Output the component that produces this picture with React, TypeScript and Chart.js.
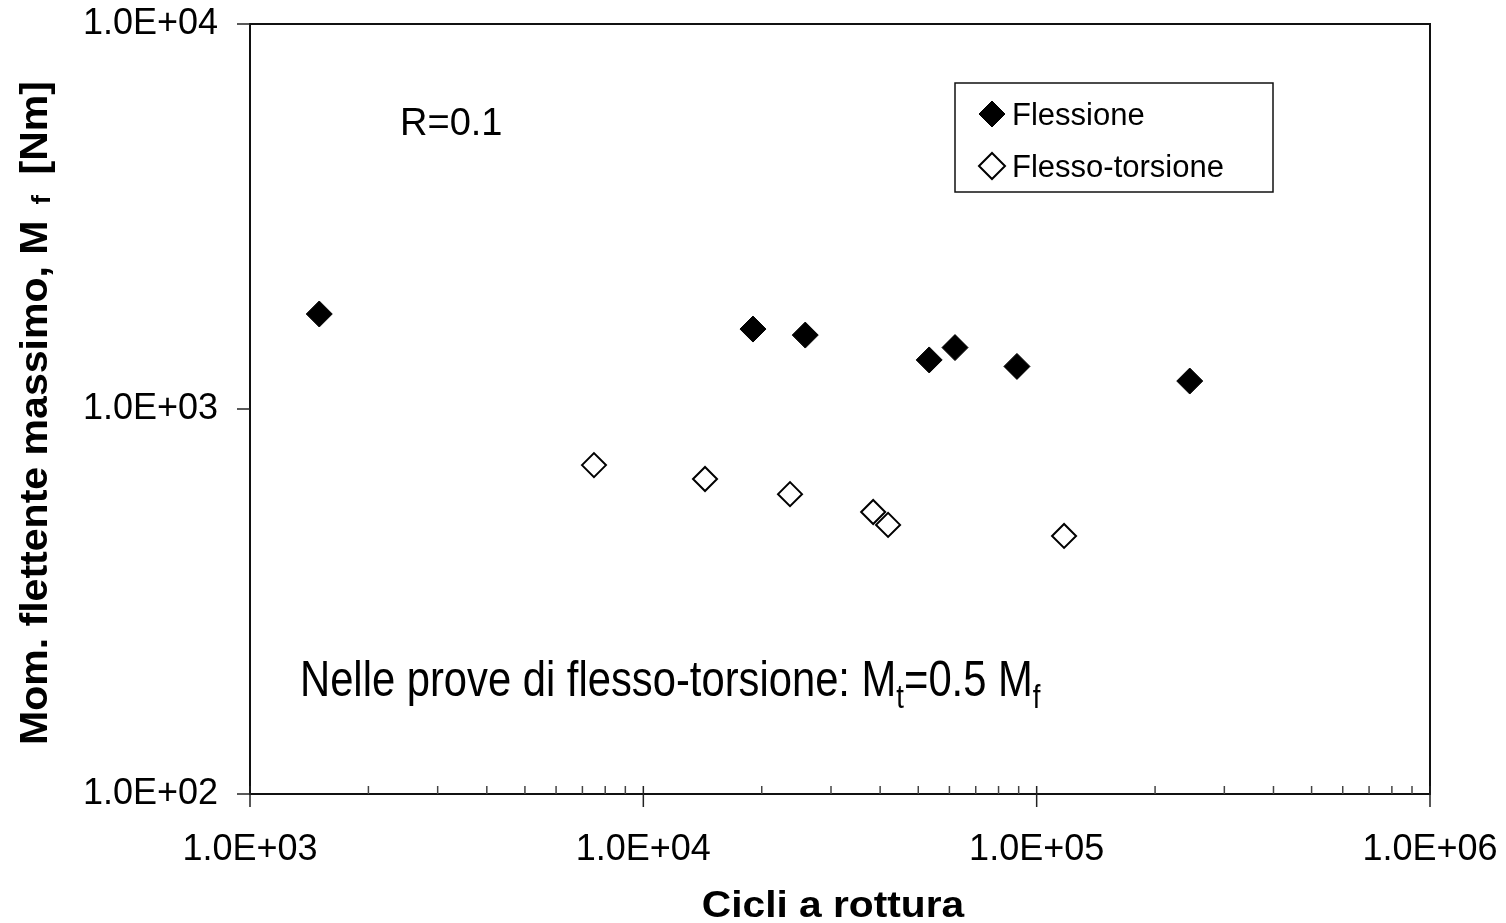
import React, { useEffect, useRef } from 'react';
import { Chart, registerables } from 'chart.js';

Chart.register(...registerables);

const FONT = "'Liberation Sans', Arial, Helvetica, sans-serif";

// ---- data ----
const seriesNames = ['Flessione', 'Flesso-torsione'];
const flessioneCycles = [1500, 19000, 25800, 53300, 62000, 89100, 245000];
const flessioneMoment = [1765, 1613, 1556, 1341, 1444, 1290, 1182];
const flessoTorsioneCycles = [7490, 14350, 23600, 38400, 41900, 117400];
const flessoTorsioneMoment = [715, 658, 601, 540, 500, 468];

// ---- axes ----
const xMajorTicks = [1e3, 1e4, 1e5, 1e6];
const yMajorTicks = [1e2, 1e3, 1e4];
const minorMultipliers = [2, 3, 4, 5, 6, 7, 8, 9];

// ---- texts ----
const xTitle = 'Cicli a rottura';
const yTitleMain = 'Mom. flettente massimo, M';
const yTitleSub = 'f';
const yTitleUnit = '[Nm]';
const ratioNote = 'R=0.1';
const noteMain = 'Nelle prove di flesso-torsione: M';
const noteSubT = 't';
const noteMid = '=0.5 M';
const noteSubF = 'f';

function fmtExp(v: number): string {
  const e = Math.round(Math.log10(v));
  const m = v / Math.pow(10, e);
  const sign = e < 0 ? '-' : '+';
  return `${m.toFixed(1)}E${sign}${String(Math.abs(e)).padStart(2, '0')}`;
}

function diamond(ctx: CanvasRenderingContext2D, x: number, y: number, r: number) {
  ctx.beginPath();
  ctx.moveTo(x - r, y);
  ctx.lineTo(x, y - r);
  ctx.lineTo(x + r, y);
  ctx.lineTo(x, y + r);
  ctx.closePath();
}

function stretchedText(
  ctx: CanvasRenderingContext2D,
  text: string,
  x: number,
  y: number,
  font: string,
  sx: number,
  align: CanvasTextAlign = 'left'
) {
  ctx.save();
  ctx.font = font;
  ctx.translate(x, y);
  ctx.scale(sx, 1);
  ctx.textAlign = align;
  ctx.textBaseline = 'alphabetic';
  ctx.fillText(text, 0, 0);
  ctx.restore();
}

const decorPlugin = {
  id: 'decor',
  afterDraw(chart: any) {
    const { ctx, chartArea: a, scales } = chart;
    const xs = scales.x;
    const ys = scales.y;
    ctx.save();

    // frame
    ctx.strokeStyle = '#111';
    ctx.lineWidth = 2;
    ctx.strokeRect(a.left, a.top, a.right - a.left, a.bottom - a.top);

    const seg = (x1: number, y1: number, x2: number, y2: number) => {
      ctx.beginPath();
      ctx.moveTo(x1, y1);
      ctx.lineTo(x2, y2);
      ctx.stroke();
    };

    // y major ticks (outside)
    ctx.lineWidth = 1.5;
    ctx.strokeStyle = '#222';
    yMajorTicks.forEach((v) => {
      const p = ys.getPixelForValue(v);
      seg(a.left - 13, p, a.left, p);
    });
    // x major ticks (cross)
    xMajorTicks.forEach((v) => {
      const p = xs.getPixelForValue(v);
      seg(p, a.bottom - 8, p, a.bottom + 13);
    });
    // x minor ticks (inside)
    ctx.strokeStyle = '#444';
    for (let i = 0; i < xMajorTicks.length - 1; i++) {
      minorMultipliers.forEach((k) => {
        const p = xs.getPixelForValue(xMajorTicks[i] * k);
        seg(p, a.bottom - 8, p, a.bottom);
      });
    }

    // legend
    const lx = 955, ly = 83, lw = 318, lh = 109;
    ctx.fillStyle = '#fff';
    ctx.fillRect(lx, ly, lw, lh);
    ctx.strokeStyle = '#111';
    ctx.lineWidth = 1.5;
    ctx.strokeRect(lx, ly, lw, lh);
    chart.data.datasets.forEach((ds: any, i: number) => {
      const cy = 114 + i * 52;
      diamond(ctx, 992, cy, 13);
      ctx.fillStyle = ds.backgroundColor;
      ctx.fill();
      ctx.lineWidth = ds.borderWidth;
      ctx.strokeStyle = ds.borderColor;
      ctx.stroke();
      ctx.fillStyle = '#000';
      stretchedText(ctx, ds.label, 1012, cy + 11, `31px ${FONT}`, 1);
    });

    // R=0.1
    ctx.fillStyle = '#000';
    stretchedText(ctx, ratioNote, 400, 135, `38px ${FONT}`, 1);

    // note with subscripts
    {
      const sx = 0.835;
      const big = `50px ${FONT}`;
      const small = `33px ${FONT}`;
      let x = 300;
      const base = 696;
      ctx.font = big;
      stretchedText(ctx, noteMain, x, base, big, sx);
      x += ctx.measureText(noteMain).width * sx;
      stretchedText(ctx, noteSubT, x, base + 12, small, sx);
      ctx.font = small;
      x += ctx.measureText(noteSubT).width * sx;
      stretchedText(ctx, noteMid, x, base, big, sx);
      ctx.font = big;
      x += ctx.measureText(noteMid).width * sx;
      stretchedText(ctx, noteSubF, x, base + 12, small, sx);
    }

    // x title
    stretchedText(ctx, xTitle, (a.left + a.right) / 2 - 7, 917, `bold 37px ${FONT}`, 1.1, 'center');

    // y title (rotated)
    {
      const sx = 1.08;
      const big = `bold 38px ${FONT}`;
      const small = `bold 26px ${FONT}`;
      ctx.save();
      ctx.translate(47, 745);
      ctx.rotate(-Math.PI / 2);
      ctx.font = big;
      const mainW = ctx.measureText(yTitleMain).width * sx;
      stretchedText(ctx, yTitleMain, 0, 0, big, sx);
      stretchedText(ctx, yTitleSub, mainW + 16, 3, small, sx);
      stretchedText(ctx, yTitleUnit, mainW + 46, 0, big, sx);
      ctx.restore();
    }

    ctx.restore();
  },
};

const zeroPadding = (s: any) => {
  s.paddingTop = 0;
  s.paddingBottom = 0;
  s.paddingLeft = 0;
  s.paddingRight = 0;
};

export default function App() {
  const ref = useRef<HTMLCanvasElement>(null);

  useEffect(() => {
    const canvas = ref.current;
    if (!canvas) return;
    const chart = new Chart(canvas, {
      type: 'scatter',
      data: {
        datasets: [
          {
            label: seriesNames[0],
            data: flessioneCycles.map((x, i) => ({ x, y: flessioneMoment[i] })),
            pointStyle: 'rectRot',
            pointRadius: 13,
            pointHoverRadius: 13,
            backgroundColor: '#000',
            borderColor: '#000',
            borderWidth: 1,
          },
          {
            label: seriesNames[1],
            data: flessoTorsioneCycles.map((x, i) => ({ x, y: flessoTorsioneMoment[i] })),
            pointStyle: 'rectRot',
            pointRadius: 12,
            pointHoverRadius: 12,
            backgroundColor: '#fff',
            borderColor: '#000',
            borderWidth: 2,
          },
        ],
      },
      options: {
        responsive: false,
        animation: false,
        events: [],
        layout: { padding: { left: 0, top: 24, right: 76, bottom: 0 } },
        plugins: {
          legend: { display: false },
          tooltip: { enabled: false },
          title: { display: false },
        },
        scales: {
          x: {
            type: 'logarithmic',
            min: 1e3,
            max: 1e6,
            afterBuildTicks: (s: any) => {
              s.ticks = xMajorTicks.map((v) => ({ value: v }));
            },
            afterFit: (s: any) => {
              s.height = 129;
              zeroPadding(s);
            },
            grid: { display: false, drawTicks: false },
            border: { display: false },
            ticks: {
              callback: (v: any) => fmtExp(Number(v)),
              font: { family: FONT, size: 36 },
              color: '#000',
              padding: 34,
              maxRotation: 0,
              autoSkip: false,
            },
          },
          y: {
            type: 'logarithmic',
            min: 1e2,
            max: 1e4,
            afterBuildTicks: (s: any) => {
              s.ticks = yMajorTicks.map((v) => ({ value: v }));
            },
            afterFit: (s: any) => {
              s.width = 250;
              zeroPadding(s);
            },
            grid: { display: false, drawTicks: false },
            border: { display: false },
            ticks: {
              callback: (v: any) => fmtExp(Number(v)),
              font: { family: FONT, size: 36 },
              color: '#000',
              padding: 32,
              autoSkip: false,
            },
          },
        },
      },
      plugins: [decorPlugin],
    } as any);
    return () => chart.destroy();
  }, []);

  return (
    <div style={{ position: 'fixed', left: 0, top: 0, width: 1506, height: 923, background: '#fff' }}>
      <canvas ref={ref} width={1506} height={923} style={{ display: 'block' }} />
    </div>
  );
}
